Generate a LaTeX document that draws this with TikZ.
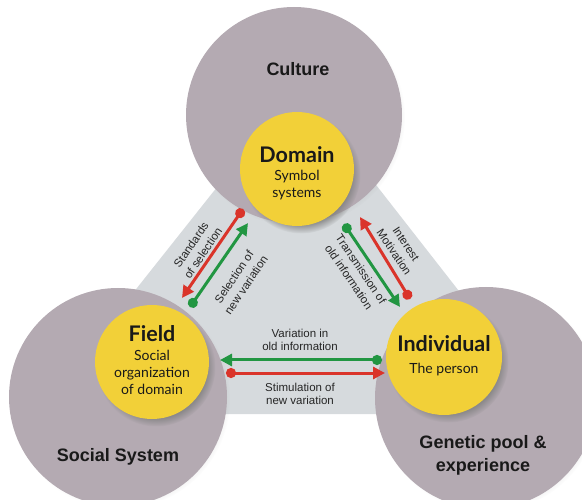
\documentclass[tikz,border=0pt]{standalone}
\usepackage{fontspec}
\setmainfont{Liberation Sans}
\newfontfamily\gillfont{Lato}
\usetikzlibrary{arrows.meta,shadows}

\definecolor{realmgray}{RGB}{180,170,178}
\definecolor{trigray}{RGB}{214,218,221}
\definecolor{coreyellow}{RGB}{242,208,56}
\definecolor{flowred}{RGB}{218,52,42}
\definecolor{flowgreen}{RGB}{34,150,66}

\begin{document}
\begin{tikzpicture}[x=1pt,y=-1pt]
                \tikzset{
                  realm/.style={circle,fill=realmgray,inner sep=0pt,minimum size=#1,
                    circular drop shadow={shadow xshift=2pt,shadow yshift=-2pt,shadow scale=1.01,opacity=0.25}},
                  core/.style={circle,fill=coreyellow,inner sep=0pt,minimum size=#1,
                    circular drop shadow={shadow xshift=4pt,shadow yshift=-5pt,shadow scale=1.04,opacity=0.8}},
                  realmtext/.style={font=\fontsize{18}{23}\selectfont\bfseries,align=center,text=black!90},
                  coretitle/.style={font=\gillfont\fontsize{21.5}{24}\selectfont\bfseries,text=black!90},
                  coretext/.style={font=\gillfont\fontsize{14}{17}\selectfont,align=center,text=black!90},
                  flowtext/.style={font=\fontsize{11.5}{13.5}\selectfont,align=center,text=black!85},
                  slanttext/.style={flowtext,font=\fontsize{11.5}{14.5}\selectfont},
                  flow/.style={line width=3pt,draw=#1,fill=#1,
                    {Circle[length=10pt]}-{Triangle[length=12pt,width=12pt]}}
                }
                \useasboundingbox (0,0) rectangle (582,500);

                % background triangle
                \fill[trigray] (298,85) -- (37,414) -- (555,414) -- cycle;

                % outer circles
                \node[realm=216pt] (culture) at (294,115) {};
                \node[realm=218pt] (social) at (118,397) {};
                \node[realm=222pt] (genetic) at (486,398) {};

                \node[realmtext] (cultureT) at (298,69) {Culture};
                \node[realmtext] (socialT) at (118,457) {Social System};
                \node[realmtext] (geneticT) at (483,455) {Genetic pool \&\\experience};

                % inner circles
                \node[core=114pt] (domain) at (297,169) {};
                \node[core=114pt] (field) at (152,362) {};
                \node[core=116pt] (individual) at (444,357) {};

                \node[coretitle] (domainT) at (297,155) {Domain};
                \node[coretext] (domainS) at (297,185) {Symbol\\systems};
                \node[coretitle] (fieldT) at (152,334) {Field};
                \node[coretext] (fieldS) at (152,372) {Social\\organization\\of domain};
                \node[coretitle] (individualT) at (444,344) {Individual};
                \node[coretext] (individualS) at (444,370) {The person};

                % flow ends
                \coordinate (stdFrom) at (243,209);
                \coordinate (stdTo) at (182,298);
                \coordinate (selFrom) at (190,307);
                \coordinate (selTo) at (248,223);
                \coordinate (trFrom) at (344,224);
                \coordinate (trTo) at (400,307);
                \coordinate (intFrom) at (410,299);
                \coordinate (intTo) at (360,217);
                \coordinate (varFrom) at (382,360);
                \coordinate (varTo) at (220,360);
                \coordinate (stimFrom) at (226,373);
                \coordinate (stimTo) at (385,373);

                \draw[flow=flowred] (stdFrom) -- (stdTo);
                \draw[flow=flowgreen] (selFrom) -- (selTo);
                \draw[flow=flowgreen] (trFrom) -- (trTo);
                \draw[flow=flowred] (intFrom) -- (intTo);
                \draw[flow=flowgreen] (varFrom) -- (varTo);
                \draw[flow=flowred] (stimFrom) -- (stimTo);

                \node[slanttext,rotate=56] (stdT) at (197,249) {Standards\\of selection};
                \node[slanttext,rotate=56] (selT) at (240,281) {Selection of\\new variation};
                \node[slanttext,rotate=-56] (intT) at (400,248) {Interest\\Motivation};
                \node[slanttext,rotate=-56] (trT) at (355,273) {Transmission of\\old information};
                \node[flowtext] (varT) at (300,340) {Variation in\\old information};
                \node[flowtext] (stimT) at (300,394) {Stimulation of\\new variation};
            \end{tikzpicture}
\end{document}
